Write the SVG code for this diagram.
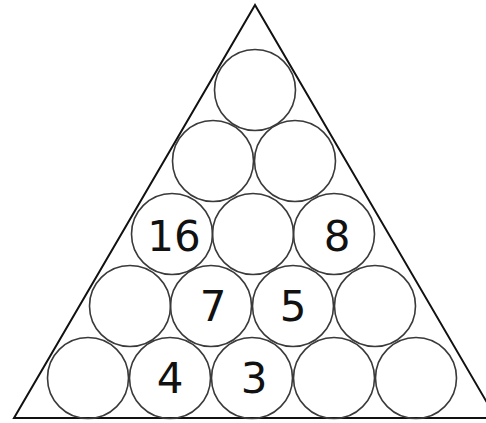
<svg xmlns="http://www.w3.org/2000/svg" width="486" height="423" viewBox="0 0 486 423">
<style>
.c{fill:none;stroke:#3a3a3a;stroke-width:1.6}
.t{font-family:"DejaVu Sans",Verdana,sans-serif;font-size:42px;fill:#111;text-anchor:middle}
</style>
<rect width="486" height="423" fill="#fff"/>
<g id="triangle"><polygon points="255,5 14,418 496,418" fill="none" stroke="#111" stroke-width="2"/></g>
<g id="connectors"/>
<g id="r1c1"><circle class="c" cx="255" cy="90" r="40.5"/></g>
<g id="r2c1"><circle class="c" cx="213" cy="161" r="40.5"/></g>
<g id="r2c2"><circle class="c" cx="295" cy="161" r="40.5"/></g>
<g id="r3c1"><circle class="c" cx="172" cy="234" r="40.5"/><text class="t" x="174" y="251">16</text></g>
<g id="r3c2"><circle class="c" cx="253" cy="234" r="40.5"/></g>
<g id="r3c3"><circle class="c" cx="334" cy="234" r="40.5"/><text class="t" x="337" y="251">8</text></g>
<g id="r4c1"><circle class="c" cx="130" cy="306" r="40.5"/></g>
<g id="r4c2"><circle class="c" cx="211" cy="306" r="40.5"/><text class="t" x="213" y="321">7</text></g>
<g id="r4c3"><circle class="c" cx="293" cy="306" r="40.5"/><text class="t" x="293" y="321">5</text></g>
<g id="r4c4"><circle class="c" cx="375" cy="306" r="40.5"/></g>
<g id="r5c1"><circle class="c" cx="88" cy="378" r="40.5"/></g>
<g id="r5c2"><circle class="c" cx="170" cy="378" r="40.5"/><text class="t" x="170" y="393">4</text></g>
<g id="r5c3"><circle class="c" cx="252" cy="378" r="40.5"/><text class="t" x="254" y="393">3</text></g>
<g id="r5c4"><circle class="c" cx="334" cy="378" r="40.5"/></g>
<g id="r5c5"><circle class="c" cx="416" cy="378" r="40.5"/></g>
</svg>
